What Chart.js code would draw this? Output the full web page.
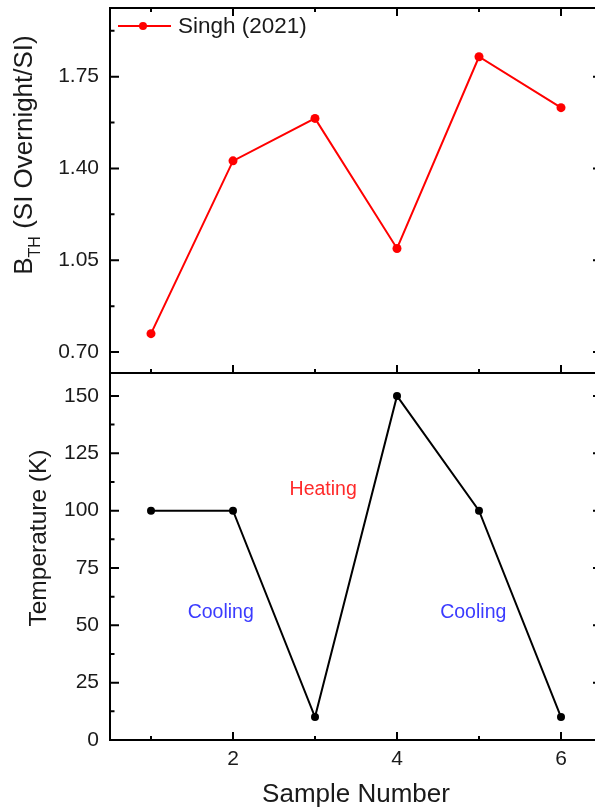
<!DOCTYPE html>
<html>
<head>
<meta charset="utf-8">
<title>Threshold field and temperature per sample</title>
<script src="https://cdn.jsdelivr.net/npm/chart.js@4.4.1/dist/chart.umd.min.js"></script>
<style>
  html, body { margin: 0; padding: 0; background: #fff; }
  body { width: 595px; height: 810px; overflow: hidden; position: relative; }
  canvas { position: absolute; left: 0; top: 0; }
</style>
</head>
<body>
<canvas id="bth" width="610" height="810"></canvas>
<canvas id="temp" width="610" height="810"></canvas>
<script>
// ---- data ----
const samples = [1, 2, 3, 4, 5, 6];
const bthValues = [0.770, 1.429, 1.591, 1.095, 1.826, 1.632];
const temperatureK = [100, 100, 10, 150, 100, 10];

const sampleTicks = [2, 4, 6];
const sampleMinorTicks = [1, 3, 5];
const bthTicks = [0.70, 1.05, 1.40, 1.75];
const bthMinorTicks = [0.875, 1.225, 1.575, 1.925];
const tempTicks = [0, 25, 50, 75, 100, 125, 150];
const tempMinorTicks = [12.5, 37.5, 62.5, 87.5, 112.5, 137.5];

const legendLabel = 'Singh (2021)';
const phaseLabels = ['Heating', 'Cooling', 'Cooling'];
const phaseX = [3.10, 1.85, 4.93];
const phaseY = [109, 55.5, 55.5];
const phaseColors = ['#ff2a2a', '#3b3bff', '#3b3bff'];

// ---- shared styling ----
const FONT = "'Liberation Sans', Arial, sans-serif";
const TEXT = '#1a1a1a';

// Box frame with inward-pointing major/minor ticks on every drawn side
const framePlugin = {
  id: 'frame',
  afterDatasetsDraw(chart, args, o) {
    const { ctx, chartArea: a } = chart;
    const xs = chart.scales.x, ys = chart.scales.y;
    ctx.save();
    ctx.strokeStyle = '#000';
    ctx.lineWidth = 2;
    ctx.strokeRect(a.left, a.top, a.right - a.left, a.bottom - a.top);
    ctx.beginPath();
    const yTicks = (vals, len) => vals.forEach(v => {
      const p = ys.getPixelForValue(v);
      if (p < a.top + 1 || p > a.bottom - 1) return;
      ctx.moveTo(a.left, p); ctx.lineTo(a.left + len, p);
      ctx.moveTo(a.right, p); ctx.lineTo(a.right - len, p);
    });
    const xTicks = (vals, len) => vals.forEach(v => {
      const p = xs.getPixelForValue(v);
      if (o.bottom) { ctx.moveTo(p, a.bottom); ctx.lineTo(p, a.bottom - len); }
      if (o.top) { ctx.moveTo(p, a.top); ctx.lineTo(p, a.top + len); }
    });
    yTicks(o.yMajor, 9);
    yTicks(o.yMinor, 4.5);
    xTicks(sampleTicks, 8);
    xTicks(sampleMinorTicks, 4);
    ctx.stroke();
    ctx.restore();
  }
};

// Rotated axis title built from runs (allows a subscript run)
function drawVerticalTitle(ctx, runs, baseX, centerY) {
  ctx.save();
  let total = 0;
  runs.forEach(r => {
    ctx.font = r.size + 'px ' + FONT;
    r.w = ctx.measureText(r.text).width;
    total += r.w;
  });
  ctx.translate(baseX, centerY);
  ctx.rotate(-Math.PI / 2);
  ctx.fillStyle = TEXT;
  ctx.textAlign = 'left';
  ctx.textBaseline = 'alphabetic';
  let u = -total / 2;
  runs.forEach(r => {
    ctx.font = r.size + 'px ' + FONT;
    ctx.fillText(r.text, u, r.dy || 0);
    u += r.w;
  });
  ctx.restore();
}

const titlesPlugin = {
  id: 'titles',
  afterDraw(chart, args, o) {
    const ctx = chart.ctx;
    drawVerticalTitle(ctx, o.runs, o.x, o.y);
    if (o.xTitle) {
      ctx.save();
      ctx.font = o.xTitle.size + 'px ' + FONT;
      ctx.fillStyle = TEXT;
      ctx.textAlign = 'center';
      ctx.textBaseline = 'alphabetic';
      const a = chart.chartArea;
      ctx.fillText(o.xTitle.text, (a.left + a.right) / 2, o.xTitle.y);
      ctx.restore();
    }
  }
};

// Line-and-marker legend entry in the upper-left corner
const legendPlugin = {
  id: 'cornerLegend',
  afterDraw(chart, args, o) {
    const ctx = chart.ctx;
    const ds = chart.data.datasets[0];
    ctx.save();
    ctx.strokeStyle = ds.borderColor;
    ctx.lineWidth = 2;
    ctx.beginPath();
    ctx.moveTo(o.x, o.y); ctx.lineTo(o.x + 53, o.y);
    ctx.stroke();
    ctx.fillStyle = ds.borderColor;
    ctx.beginPath();
    ctx.arc(o.x + 25, o.y, 4, 0, Math.PI * 2);
    ctx.fill();
    ctx.font = '22.5px ' + FONT;
    ctx.fillStyle = TEXT;
    ctx.textBaseline = 'middle';
    ctx.fillText(ds.label, o.x + 60, o.y + 1);
    ctx.restore();
  }
};

// Phase annotations placed in data coordinates
const phasePlugin = {
  id: 'phases',
  afterDatasetsDraw(chart) {
    const ctx = chart.ctx;
    const xs = chart.scales.x, ys = chart.scales.y;
    ctx.save();
    ctx.font = '19.5px ' + FONT;
    ctx.textAlign = 'center';
    ctx.textBaseline = 'middle';
    phaseLabels.forEach((t, i) => {
      ctx.fillStyle = phaseColors[i];
      ctx.fillText(t, xs.getPixelForValue(phaseX[i]), ys.getPixelForValue(phaseY[i]));
    });
    ctx.restore();
  }
};

function yAxis(min, max, ticks, fmt) {
  return {
    type: 'linear', min, max,
    grid: { display: false, drawTicks: false },
    border: { display: false },
    ticks: { padding: 11, color: TEXT, font: { family: FONT, size: 21 }, callback: fmt },
    afterBuildTicks: s => { s.ticks = ticks.map(v => ({ value: v })); },
    afterFit: s => { s.width = 110; s.paddingTop = 0; s.paddingBottom = 0; }
  };
}

const common = {
  responsive: false,
  animation: false,
  events: []
};

// ---- upper panel: B_TH ----
new Chart(document.getElementById('bth'), {
  type: 'line',
  data: {
    datasets: [{
      label: legendLabel,
      data: samples.map((s, i) => ({ x: s, y: bthValues[i] })),
      borderColor: '#ff0000',
      backgroundColor: '#ff0000',
      borderWidth: 2,
      pointRadius: 4.5,
      pointBorderWidth: 0,
      tension: 0
    }]
  },
  options: {
    ...common,
    layout: { padding: { left: 0, right: 8, top: 8, bottom: 437 } },
    plugins: {
      legend: { display: false },
      tooltip: { enabled: false },
      frame: { top: true, bottom: true, yMajor: bthTicks, yMinor: bthMinorTicks },
      titles: {
        x: 32, y: 155,
        runs: [
          { text: 'B', size: 26 },
          { text: 'TH', size: 16, dy: 8 },
          { text: ' (SI Overnight/SI)', size: 26 }
        ]
      },
      cornerLegend: { x: 118, y: 26 }
    },
    scales: {
      x: { type: 'linear', min: 0.5, max: 6.5, display: false },
      y: yAxis(0.62, 2.012, bthTicks, v => v.toFixed(2))
    }
  },
  plugins: [framePlugin, titlesPlugin, legendPlugin]
});

// ---- lower panel: temperature ----
new Chart(document.getElementById('temp'), {
  type: 'line',
  data: {
    datasets: [{
      label: 'Temperature',
      data: samples.map((s, i) => ({ x: s, y: temperatureK[i] })),
      borderColor: '#000000',
      backgroundColor: '#000000',
      borderWidth: 2,
      pointRadius: 4,
      pointBorderWidth: 0,
      tension: 0
    }]
  },
  options: {
    ...common,
    layout: { padding: { left: 0, right: 8, top: 373, bottom: 0 } },
    plugins: {
      legend: { display: false },
      tooltip: { enabled: false },
      frame: { top: false, bottom: true, yMajor: tempTicks, yMinor: tempMinorTicks },
      titles: {
        x: 46, y: 538,
        runs: [{ text: 'Temperature (K)', size: 24.5 }],
        xTitle: { text: 'Sample Number', size: 26, y: 802 }
      }
    },
    scales: {
      x: {
        type: 'linear', min: 0.5, max: 6.5,
        grid: { display: false, drawTicks: false },
        border: { display: false },
        ticks: { padding: 7, maxRotation: 0, autoSkip: false, color: TEXT, font: { family: FONT, size: 21 }, callback: v => String(v) },
        afterBuildTicks: s => { s.ticks = sampleTicks.map(v => ({ value: v })); },
        afterFit: s => { s.height = 70; s.paddingLeft = 0; s.paddingRight = 0; }
      },
      y: yAxis(0, 160, tempTicks, v => String(v))
    }
  },
  plugins: [framePlugin, titlesPlugin, phasePlugin]
});
</script>
</body>
</html>
